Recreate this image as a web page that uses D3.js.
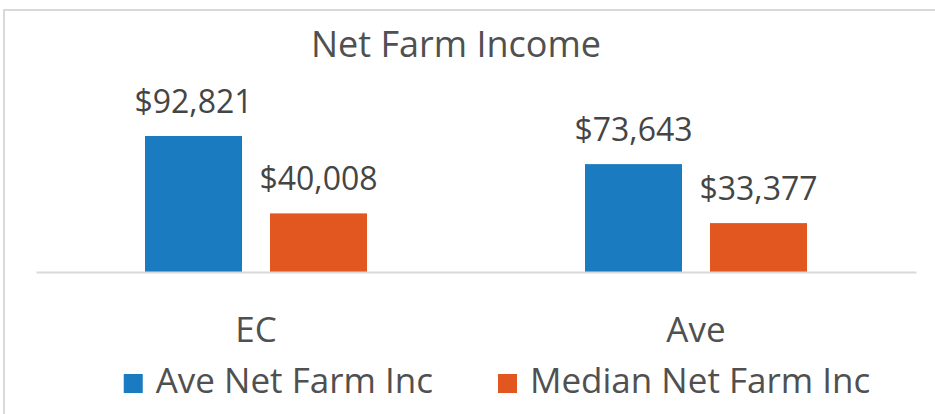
<!DOCTYPE html>
<html>
<head>
<meta charset="utf-8">
<script src="https://cdn.jsdelivr.net/npm/d3@7.9.0/dist/d3.min.js"></script>
<style>
  html, body { margin: 0; padding: 0; background: #fff; }
  svg { display: block; font-family: "Open Sans", sans-serif; }
</style>
</head>
<body>
<div id="chart"></div>
<script>
const width = 935;
const height = 414;

// chart data
const categories = ["EC", "Ave"];
const seriesNames = ["Ave Net Farm Inc", "Median Net Farm Inc"];
const aveNetFarmInc = [92821, 73643];
const medianNetFarmInc = [40008, 33377];
const seriesColors = ["#1b7bc1", "#e2571f"];
const chartTitle = "Net Farm Income";

const rows = categories.map((c, i) => ({
    category: c,
    values: [
        { series: seriesNames[0], value: aveNetFarmInc[i] },
        { series: seriesNames[1], value: medianNetFarmInc[i] },
    ],
}));

const svg = d3.select('#chart')
    .append('svg')
    .attr('width', width)
    .attr('height', height);

// chart area border (only top and left visible in the crop)
svg.append('path')
    .attr('d', `M4,${height} L4,10 L${width},10`)
    .attr('fill', 'none')
    .attr('stroke', '#d9d9d9')
    .attr('stroke-width', 2);

const plot = { left: 36, right: 916, top: 80, bottom: 272 };

const x0 = d3.scaleBand()
    .domain(categories)
    .range([plot.left, plot.right])
    .padding(0);

const x1 = d3.scaleBand()
    .domain(seriesNames)
    .range([0, x0.bandwidth()])
    .paddingInner(0.224)
    .paddingOuter(0.872);

const y = d3.scaleLinear()
    .domain([0, 100000])
    .range([plot.bottom, plot.bottom - 146.5]);

const color = d3.scaleOrdinal().domain(seriesNames).range(seriesColors);
const fmt = d3.format('$,.0f');

// title
svg.append('text')
    .attr('x', 456)
    .attr('y', 57)
    .attr('text-anchor', 'middle')
    .style('font-size', '36px')
    .style('fill', '#505050')
    .text(chartTitle);

const groups = svg.append('g')
    .selectAll('g')
    .data(rows)
    .join('g')
    .attr('transform', d => `translate(${x0(d.category)},0)`);

groups.selectAll('rect')
    .data(d => d.values)
    .join('rect')
    .attr('x', d => x1(d.series))
    .attr('y', d => y(d.value))
    .attr('width', x1.bandwidth())
    .attr('height', d => y(0) - y(d.value))
    .attr('fill', d => color(d.series));

groups.selectAll('text')
    .data(d => d.values)
    .join('text')
    .attr('x', d => x1(d.series) + x1.bandwidth() / 2)
    .attr('y', d => y(d.value) - 23)
    .attr('text-anchor', 'middle')
    .style('font-size', '32px')
    .style('fill', '#454545')
    .text(d => fmt(d.value));

// category axis
const xAxis = svg.append('g')
    .attr('transform', `translate(0,${plot.bottom})`)
    .call(d3.axisBottom(x0).tickSize(0).tickPadding(48));

xAxis.select('.domain')
    .attr('stroke', '#d9d9d9')
    .attr('stroke-width', 2);

xAxis.selectAll('text')
    .style('font-family', '"Open Sans", sans-serif')
    .style('font-size', '35px')
    .style('fill', '#505050')
    .attr('dy', 0)
    .attr('y', 70);

// legend
const legend = svg.append('g');
const items = legend.selectAll('g')
    .data(seriesNames)
    .join('g');

items.append('rect')
    .attr('y', 374)
    .attr('width', 19)
    .attr('height', 19)
    .attr('fill', d => color(d));

items.append('text')
    .attr('x', 32)
    .attr('y', 393)
    .style('font-size', '35px')
    .style('fill', '#505050')
    .text(d => d);

let offset = 0;
items.each(function() {
    const g = d3.select(this);
    g.attr('transform', `translate(${offset},0)`);
    const w = 32 + g.select('text').node().getComputedTextLength();
    offset += w + 65;
});
const legendWidth = offset - 65;
legend.attr('transform', `translate(${497 - legendWidth / 2},0)`);
</script>
</body>
</html>
